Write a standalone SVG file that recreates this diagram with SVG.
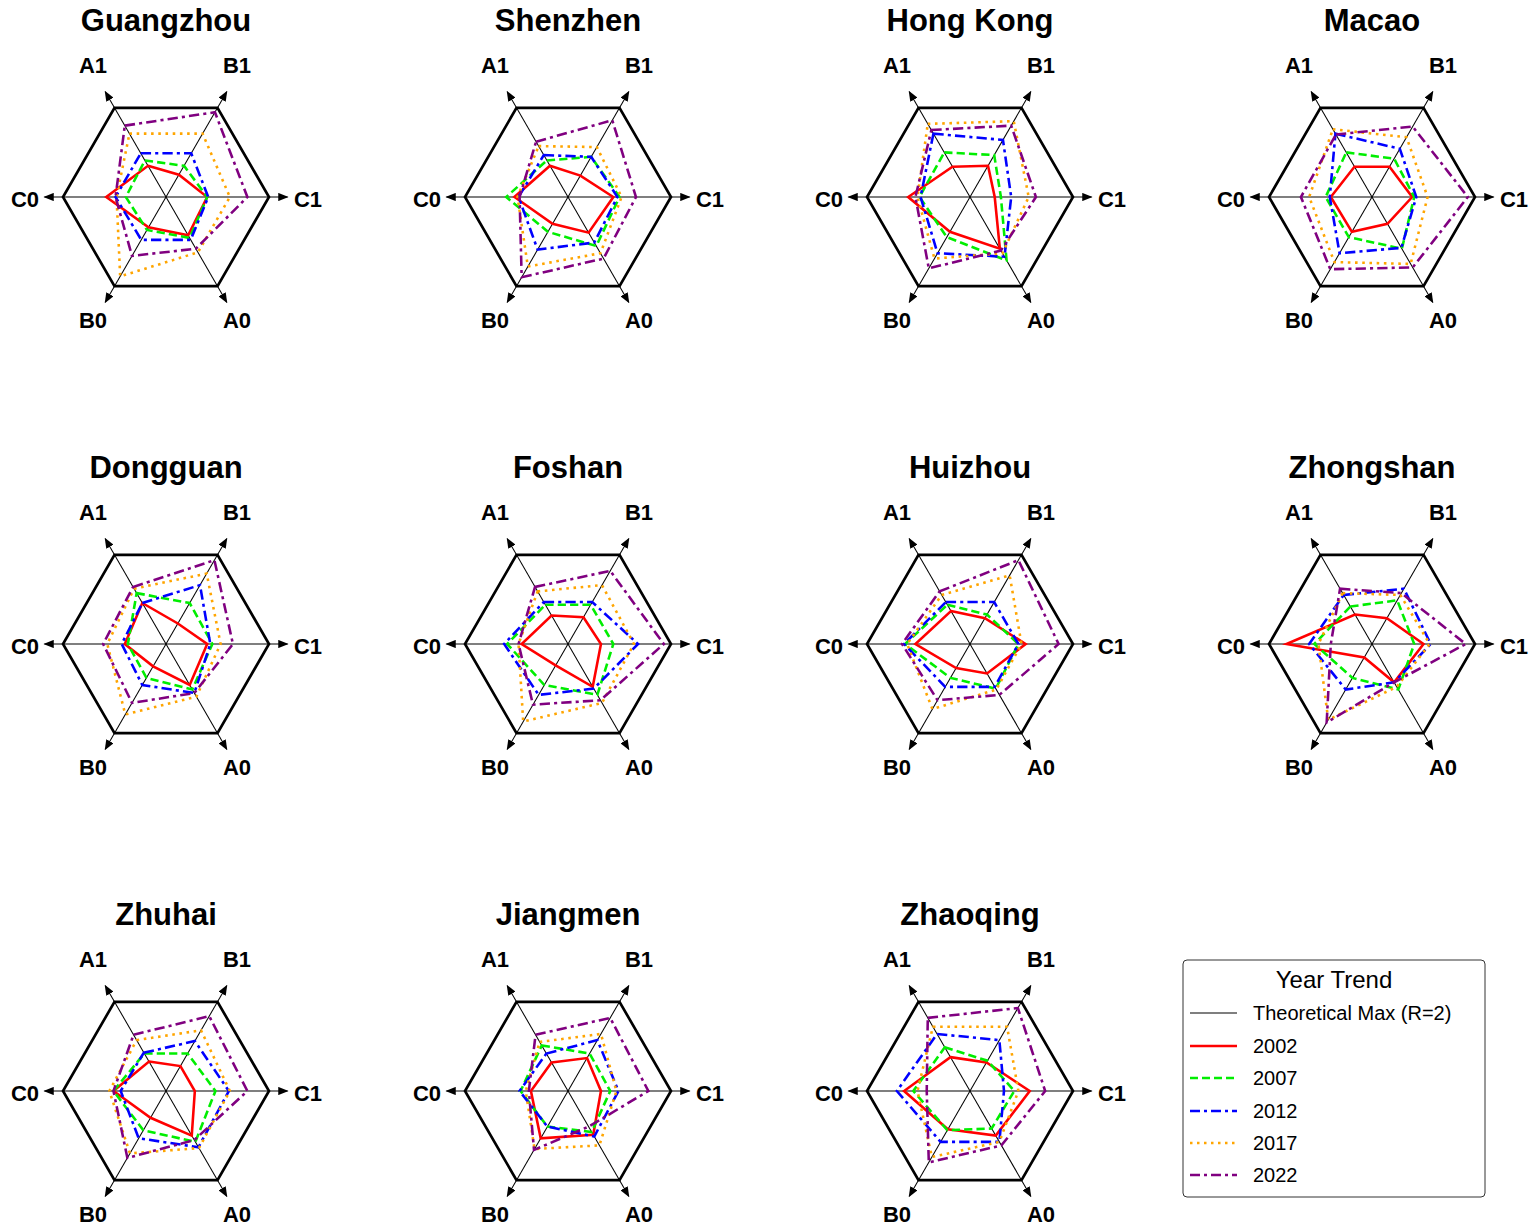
<svg xmlns="http://www.w3.org/2000/svg" xmlns:xlink="http://www.w3.org/1999/xlink" width="1535" height="1228" viewBox="0 0 1535 1228">
<style>
text{font-family:"Liberation Sans",Arial,sans-serif;fill:#000}
.t{font-size:31px;font-weight:bold;text-anchor:middle}
.l{font-size:22px;font-weight:bold;text-anchor:middle}
.hex{fill:none;stroke:#000;stroke-width:2.6}
.ax{stroke:#000;stroke-width:1;marker-end:url(#ar)}
polygon.s{fill:none;stroke-width:2.5;stroke-linejoin:miter}
.r{stroke:#ff0000}
.g{stroke:#00ee00;stroke-dasharray:8 4}
.b{stroke:#0000ff;stroke-dasharray:10 4 3 4}
.o{stroke:#ffa500;stroke-dasharray:2.5 4.5}
.p{stroke:#800080;stroke-dasharray:10 4 3 4}
.lg{font-size:20px}
</style>
<defs>
<marker id="ar" markerWidth="10" markerHeight="8" refX="9" refY="4" orient="auto" markerUnits="userSpaceOnUse"><path d="M0,0 L10,4 L0,8 z" fill="#000"/></marker>
<g id="frame">
<polygon class="hex" points="-50,-86.6 50,-86.6 100,0 50,86.6 -50,86.6 -100,0"/>
<line class="ax" x1="0" y1="0" x2="-59" y2="-102.2"/>
<line class="ax" x1="0" y1="0" x2="59" y2="-102.2"/>
<line class="ax" x1="0" y1="0" x2="118" y2="0"/>
<line class="ax" x1="0" y1="0" x2="59" y2="102.2"/>
<line class="ax" x1="0" y1="0" x2="-59" y2="102.2"/>
<line class="ax" x1="0" y1="0" x2="-118" y2="0"/>
</g>
<g id="labels">
<text class="l" x="-73" y="-124">A1</text><text class="l" x="71" y="-124">B1</text>
<text class="l" x="142" y="10">C1</text><text class="l" x="-141" y="10">C0</text>
<text class="l" x="-73" y="131">B0</text><text class="l" x="71" y="131">A0</text>
</g>
</defs>

<g id="guangzhou" transform="translate(166,197)">
<text class="t" x="0" y="-166">Guangzhou</text>
<text class="l" x="-73" y="-124">A1</text><text class="l" x="71" y="-124">B1</text><text class="l" x="142" y="10">C1</text><text class="l" x="-141" y="10">C0</text><text class="l" x="-73" y="131">B0</text><text class="l" x="71" y="131">A0</text>
<g transform="scale(1.03)"><use xlink:href="#frame"/>
<polygon class="s r" points="-17.5,-30.3 12.5,-21.7 40,0 21.5,37.2 -17,29.4 -58,0"/>
<polygon class="s g" points="-20.5,-35.5 17.5,-30.3 40,0 23,39.8 -18.5,32 -39,0"/>
<polygon class="s b" points="-24.5,-42.4 24.5,-42.4 41,0 24,41.6 -24,41.6 -49,0"/>
<polygon class="s o" points="-35.5,-61.5 35.5,-61.5 62,0 31,53.7 -44.5,77.1 -48,0"/>
<polygon class="s p" points="-40,-69.3 47.5,-82.3 79,0 29,50.2 -33,57.2 -49,0"/>
</g></g>

<g id="shenzhen" transform="translate(568,197)">
<text class="t" x="0" y="-166">Shenzhen</text>
<text class="l" x="-73" y="-124">A1</text><text class="l" x="71" y="-124">B1</text><text class="l" x="142" y="10">C1</text><text class="l" x="-141" y="10">C0</text><text class="l" x="-73" y="131">B0</text><text class="l" x="71" y="131">A0</text>
<g transform="scale(1.03)"><use xlink:href="#frame"/>
<polygon class="s r" points="-17.5,-30.3 12,-20.8 44,0 20,34.6 -15,26 -52,0"/>
<polygon class="s g" points="-20.5,-35.5 22.5,-39 50,0 27.5,47.6 -19.5,33.8 -60,0"/>
<polygon class="s b" points="-23.5,-40.7 22.5,-39 48,0 25.5,44.2 -29.5,51.1 -48,0"/>
<polygon class="s o" points="-28.5,-49.4 28,-48.5 52,0 31.5,54.6 -39,67.5 -49,0"/>
<polygon class="s p" points="-31,-53.7 43,-74.5 66,0 34.5,59.8 -45,77.9 -47,0"/>
</g></g>

<g id="hongkong" transform="translate(970,197)">
<text class="t" x="0" y="-166">Hong Kong</text>
<text class="l" x="-73" y="-124">A1</text><text class="l" x="71" y="-124">B1</text><text class="l" x="142" y="10">C1</text><text class="l" x="-141" y="10">C0</text><text class="l" x="-73" y="131">B0</text><text class="l" x="71" y="131">A0</text>
<g transform="scale(1.03)"><use xlink:href="#frame"/>
<polygon class="s r" points="-17,-29.4 17.5,-30.3 24,0 29,50.2 -19.5,33.8 -60,0"/>
<polygon class="s g" points="-25,-43.3 23.5,-40.7 30,0 35.5,61.5 -22.5,39 -49,0"/>
<polygon class="s b" points="-35.5,-61.5 32,-55.4 40,0 33.5,58 -31.5,54.6 -48,0"/>
<polygon class="s o" points="-41,-71 42.5,-73.6 57,0 31.5,54.6 -34.5,59.8 -51,0"/>
<polygon class="s p" points="-37.5,-65 40,-69.3 64,0 30,52 -40,69.3 -53,0"/>
</g></g>

<g id="macao" transform="translate(1372,197)">
<text class="t" x="0" y="-166">Macao</text>
<text class="l" x="-73" y="-124">A1</text><text class="l" x="71" y="-124">B1</text><text class="l" x="142" y="10">C1</text><text class="l" x="-141" y="10">C0</text><text class="l" x="-73" y="131">B0</text><text class="l" x="71" y="131">A0</text>
<g transform="scale(1.03)"><use xlink:href="#frame"/>
<polygon class="s r" points="-17,-29.4 17,-29.4 39,0 15,26 -19.5,33.8 -40,0"/>
<polygon class="s g" points="-25,-43.3 21.5,-37.2 41,0 29,50.2 -22.5,39 -45,0"/>
<polygon class="s b" points="-35.5,-61.5 27,-46.8 43,0 28.5,49.4 -31.5,54.6 -41,0"/>
<polygon class="s o" points="-38,-65.8 33.5,-58 54,0 37.5,65 -36.5,63.2 -61,0"/>
<polygon class="s p" points="-35,-60.6 39.5,-68.4 93,0 39.5,68.4 -40.5,70.1 -69,0"/>
</g></g>

<g id="dongguan" transform="translate(166,644)">
<text class="t" x="0" y="-166">Dongguan</text>
<text class="l" x="-73" y="-124">A1</text><text class="l" x="71" y="-124">B1</text><text class="l" x="142" y="10">C1</text><text class="l" x="-141" y="10">C0</text><text class="l" x="-73" y="131">B0</text><text class="l" x="71" y="131">A0</text>
<g transform="scale(1.03)"><use xlink:href="#frame"/>
<polygon class="s r" points="-23,-39.8 11.5,-19.9 40,0 23,39.8 -12.5,21.7 -40,0"/>
<polygon class="s g" points="-28.5,-49.4 23,-39.8 45,0 25.5,44.2 -19,32.9 -37,0"/>
<polygon class="s b" points="-23,-39.8 33,-57.2 43,0 27.5,47.6 -23,39.8 -43,0"/>
<polygon class="s o" points="-31,-53.7 39.5,-68.4 53,0 29.5,51.1 -39.5,68.4 -57,0"/>
<polygon class="s p" points="-32,-55.4 47,-81.4 65,0 27.5,47.6 -33,57.2 -61,0"/>
</g></g>

<g id="foshan" transform="translate(568,644)">
<text class="t" x="0" y="-166">Foshan</text>
<text class="l" x="-73" y="-124">A1</text><text class="l" x="71" y="-124">B1</text><text class="l" x="142" y="10">C1</text><text class="l" x="-141" y="10">C0</text><text class="l" x="-73" y="131">B0</text><text class="l" x="71" y="131">A0</text>
<g transform="scale(1.03)"><use xlink:href="#frame"/>
<polygon class="s r" points="-16,-27.7 15,-26 32,0 24,41.6 -12,20.8 -45,0"/>
<polygon class="s g" points="-22,-38.1 22,-38.1 44,0 28.5,49.4 -23,39.8 -59,0"/>
<polygon class="s b" points="-23.5,-40.7 23.5,-40.7 68,0 25,43.3 -28.5,49.4 -62,0"/>
<polygon class="s o" points="-29.5,-51.1 33,-57.2 64,0 33,57.2 -43.5,75.3 -48,0"/>
<polygon class="s p" points="-32,-55.4 41,-71 93,0 31.5,54.6 -34,58.9 -48,0"/>
</g></g>

<g id="huizhou" transform="translate(970,644)">
<text class="t" x="0" y="-166">Huizhou</text>
<text class="l" x="-73" y="-124">A1</text><text class="l" x="71" y="-124">B1</text><text class="l" x="142" y="10">C1</text><text class="l" x="-141" y="10">C0</text><text class="l" x="-73" y="131">B0</text><text class="l" x="71" y="131">A0</text>
<g transform="scale(1.03)"><use xlink:href="#frame"/>
<polygon class="s r" points="-18.5,-32 14.5,-25.1 54,0 16.5,28.6 -13.5,23.4 -53,0"/>
<polygon class="s g" points="-22,-38.1 16.5,-28.6 47,0 25,43.3 -19,32.9 -63,0"/>
<polygon class="s b" points="-23.5,-40.7 23.5,-40.7 47,0 24,41.6 -24,41.6 -64,0"/>
<polygon class="s o" points="-27.5,-47.6 38.5,-66.7 50,0 25.5,44.2 -36.5,63.2 -61,0"/>
<polygon class="s p" points="-29.5,-51.1 47,-81.4 86,0 28.5,49.4 -31.5,54.6 -66,0"/>
</g></g>

<g id="zhongshan" transform="translate(1372,644)">
<text class="t" x="0" y="-166">Zhongshan</text>
<text class="l" x="-73" y="-124">A1</text><text class="l" x="71" y="-124">B1</text><text class="l" x="142" y="10">C1</text><text class="l" x="-141" y="10">C0</text><text class="l" x="-73" y="131">B0</text><text class="l" x="71" y="131">A0</text>
<g transform="scale(1.03)"><use xlink:href="#frame"/>
<polygon class="s r" points="-16.5,-28.6 14.5,-25.1 50,0 21.5,37.2 -7.5,13 -83,0"/>
<polygon class="s g" points="-21,-36.4 24.5,-42.4 41,0 25.5,44.2 -19,32.9 -56,0"/>
<polygon class="s b" points="-27.5,-47.6 31,-53.7 57,0 21.5,37.2 -25.5,44.2 -61,0"/>
<polygon class="s o" points="-28.5,-49.4 27.5,-47.6 56,0 24,41.6 -42.5,73.6 -52,0"/>
<polygon class="s p" points="-31,-53.7 28.5,-49.4 91,0 21.5,37.2 -44,76.2 -40,0"/>
</g></g>

<g id="zhuhai" transform="translate(166,1091)">
<text class="t" x="0" y="-166">Zhuhai</text>
<text class="l" x="-73" y="-124">A1</text><text class="l" x="71" y="-124">B1</text><text class="l" x="142" y="10">C1</text><text class="l" x="-141" y="10">C0</text><text class="l" x="-73" y="131">B0</text><text class="l" x="71" y="131">A0</text>
<g transform="scale(1.03)"><use xlink:href="#frame"/>
<polygon class="s r" points="-16.5,-28.6 14,-24.2 28,0 25,43.3 -15,26 -51,0"/>
<polygon class="s g" points="-21,-36.4 21,-36.4 48,0 28.5,49.4 -22,38.1 -51,0"/>
<polygon class="s b" points="-21.5,-37.2 28,-48.5 61,0 31.5,54.6 -26.5,45.9 -44,0"/>
<polygon class="s o" points="-28.5,-49.4 34,-58.9 62,0 32,55.4 -35,60.6 -55,0"/>
<polygon class="s p" points="-31.5,-54.6 42,-72.7 79,0 27.5,47.6 -37.5,65 -51,0"/>
</g></g>

<g id="jiangmen" transform="translate(568,1091)">
<text class="t" x="0" y="-166">Jiangmen</text>
<text class="l" x="-73" y="-124">A1</text><text class="l" x="71" y="-124">B1</text><text class="l" x="142" y="10">C1</text><text class="l" x="-141" y="10">C0</text><text class="l" x="-73" y="131">B0</text><text class="l" x="71" y="131">A0</text>
<g transform="scale(1.03)"><use xlink:href="#frame"/>
<polygon class="s r" points="-16,-27.7 18.5,-32 32,0 24.5,42.4 -26.5,45.9 -36,0"/>
<polygon class="s g" points="-25.5,-44.2 21,-36.4 41,0 23,39.8 -20,34.6 -46,0"/>
<polygon class="s b" points="-21,-36.4 28.5,-49.4 49,0 25.5,44.2 -20,34.6 -47,0"/>
<polygon class="s o" points="-27.5,-47.6 32,-55.4 47,0 30.5,52.8 -32.5,56.3 -41,0"/>
<polygon class="s p" points="-31.5,-54.6 41,-71 78,0 20,34.6 -33,57.2 -38,0"/>
</g></g>

<g id="zhaoqing" transform="translate(970,1091)">
<text class="t" x="0" y="-166">Zhaoqing</text>
<text class="l" x="-73" y="-124">A1</text><text class="l" x="71" y="-124">B1</text><text class="l" x="142" y="10">C1</text><text class="l" x="-141" y="10">C0</text><text class="l" x="-73" y="131">B0</text><text class="l" x="71" y="131">A0</text>
<g transform="scale(1.03)"><use xlink:href="#frame"/>
<polygon class="s r" points="-19,-32.9 16,-27.7 58,0 25,43.3 -21.5,37.2 -64,0"/>
<polygon class="s g" points="-24.5,-42.4 17,-29.4 43,0 21,36.4 -22,38.1 -55,0"/>
<polygon class="s b" points="-32,-55.4 28.5,-49.4 33,0 28.5,49.4 -28.5,49.4 -71,0"/>
<polygon class="s o" points="-36,-62.4 36,-62.4 47,0 28.5,49.4 -37,64.1 -51,0"/>
<polygon class="s p" points="-41,-71 46.5,-80.5 73,0 30.5,52.8 -40,69.3 -42,0"/>
</g></g>

<g id="legend">
<rect x="1183" y="960" width="302" height="237" rx="4" fill="#fff" stroke="#333" stroke-width="1"/>
<text x="1334" y="988" font-size="24" text-anchor="middle">Year Trend</text>
<line x1="1190" y1="1013" x2="1237" y2="1013" stroke="#000" stroke-width="1.2"/>
<text class="lg" x="1253" y="1020">Theoretical Max (R=2)</text>
<line x1="1190" y1="1046" x2="1237" y2="1046" class="r" stroke-width="2.5"/>
<text class="lg" x="1253" y="1053">2002</text>
<line x1="1190" y1="1078" x2="1237" y2="1078" class="g" stroke-width="2.5"/>
<text class="lg" x="1253" y="1085">2007</text>
<line x1="1190" y1="1111" x2="1237" y2="1111" class="b" stroke-width="2.5"/>
<text class="lg" x="1253" y="1118">2012</text>
<line x1="1190" y1="1143" x2="1237" y2="1143" class="o" stroke-width="2.5"/>
<text class="lg" x="1253" y="1150">2017</text>
<line x1="1190" y1="1175" x2="1237" y2="1175" class="p" stroke-width="2.5"/>
<text class="lg" x="1253" y="1182">2022</text>
</g>
</svg>
